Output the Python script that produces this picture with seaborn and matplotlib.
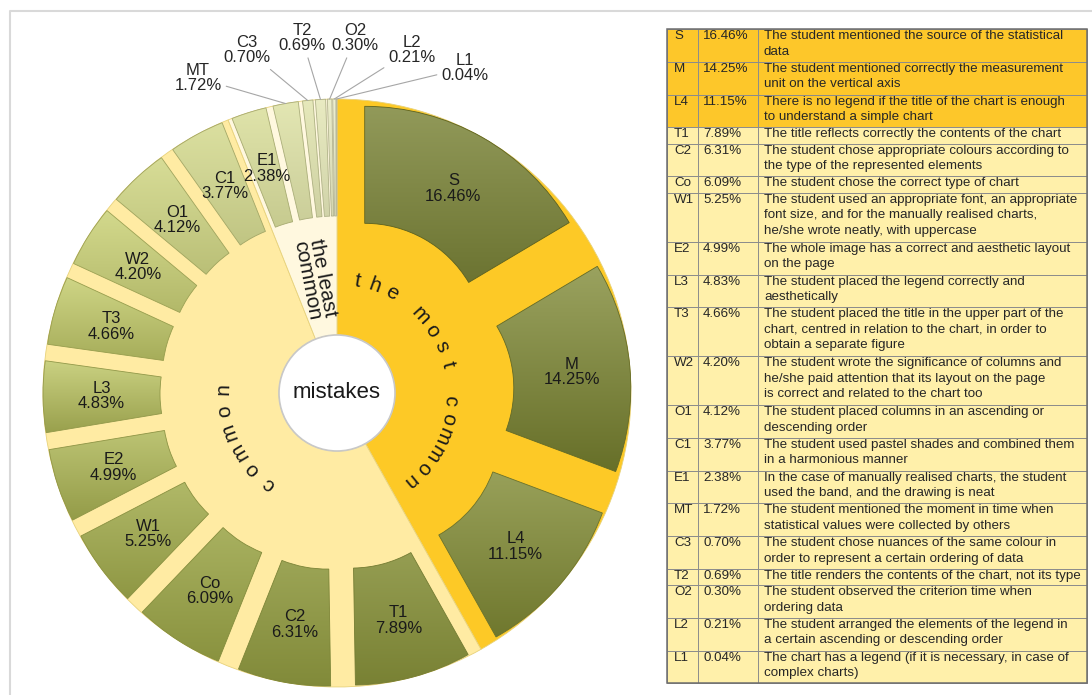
import numpy as np
import pandas as pd
import seaborn as sns
import matplotlib.pyplot as plt
from matplotlib.patches import Wedge, Circle, Rectangle
from matplotlib.colors import to_rgb

sns.set_theme(style="white")
plt.rcParams['font.family'] = ['Liberation Sans', 'DejaVu Sans']

codes = ["S", "M", "L4", "T1", "C2", "Co", "W1", "E2", "L3", "T3",
         "W2", "O1", "C1", "E1", "MT", "C3", "T2", "O2", "L2", "L1"]
shares = [16.46, 14.25, 11.15, 7.89, 6.31, 6.09, 5.25, 4.99, 4.83, 4.66,
          4.20, 4.12, 3.77, 2.38, 1.72, 0.70, 0.69, 0.30, 0.21, 0.04]
groups = ["the most common"] * 3 + ["common"] * 10 + ["the least common"] * 7
descriptions = [
    "The student mentioned the source of the statistical\ndata",
    "The student mentioned correctly the measurement\nunit on the vertical axis",
    "There is no legend if the title of the chart is enough\nto understand a simple chart",
    "The title reflects correctly the contents of the chart",
    "The student chose appropriate colours according to\nthe type of the represented elements",
    "The student chose the correct type of chart",
    "The student used an appropriate font, an appropriate\nfont size, and for the manually realised charts,\nhe/she wrote neatly, with uppercase",
    "The whole image has a correct and aesthetic layout\non the page",
    "The student placed the legend correctly and\naesthetically",
    "The student placed the title in the upper part of the\nchart, centred in relation to the chart, in order to\nobtain a separate figure",
    "The student wrote the significance of columns and\nhe/she paid attention that its layout on the page\nis correct and related to the chart too",
    "The student placed columns in an ascending or\ndescending order",
    "The student used pastel shades and combined them\nin a harmonious manner",
    "In the case of manually realised charts, the student\nused the band, and the drawing is neat",
    "The student mentioned the moment in time when\nstatistical values were collected by others",
    "The student chose nuances of the same colour in\norder to represent a certain ordering of data",
    "The title renders the contents of the chart, not its type",
    "The student observed the criterion time when\nordering data",
    "The student arranged the elements of the legend in\na certain ascending or descending order",
    "The chart has a legend (if it is necessary, in case of\ncomplex charts)",
]
center_label = "mistakes"

# layout (pixels, image coords with y measured from the top)
W, H = 1092, 695
cx, cy = 337, H - 393
R_HOLE, R_RING = 58, 294
R_IN, R_OUT, EXPLODE = 121, 238, 56
group_colors = {"the most common": "#FDC926", "common": "#FFEBA3", "the least common": "#FFF8DF"}
arc_span = {"the most common": 130, "common": 55}
ext_pos = {"MT": (198, 78), "C3": (247, 50), "T2": (302, 38),
           "O2": (355, 38), "L2": (412, 50), "L1": (465, 68)}
TFS = 9.6

df = pd.DataFrame({"code": codes, "share": shares, "group": groups, "desc": descriptions})
frac = df["share"] / df["share"].sum()
df["end"] = frac.cumsum() * 360
df["start"] = df["end"] - frac * 360
df["mid"] = (df["start"] + df["end"]) / 2
grp = df.groupby("group", sort=False).agg(start=("start", "min"), end=("end", "max"))
grp["mid"] = (grp["start"] + grp["end"]) / 2

palette = sns.blend_palette(["#737D2B", "#A7B24C", "#C4CC66", "#DCE0A0", "#ECEDCB"], n_colors=len(df))

fig = plt.figure(figsize=(W / 100, H / 100), dpi=100)
ax = fig.add_axes([0, 0, 1, 1])
ax.set_autoscale_on(False)
ax.set_xlim(0, W)
ax.set_ylim(0, H)
ax.axis("off")

# frame of the chart area
ax.plot([10, 10, W], [0, H - 11, H - 11], color="#d9d9d9", lw=1.5)


def unit(cw):
    th = np.radians(90 - cw)
    return np.cos(th), np.sin(th)


# inner ring: groups
for name, row in grp.iterrows():
    ax.add_patch(Wedge((cx, cy), R_RING, 90 - row["end"], 90 - row["start"],
                       width=R_RING - R_HOLE, facecolor=group_colors[name],
                       edgecolor="#e8d27a", lw=0.6, zorder=1))

# outer exploded segments with a vertical gradient
for i, row in df.iterrows():
    ux, uy = unit(row["mid"])
    ecx, ecy = cx + EXPLODE * ux, cy + EXPLODE * uy
    base = np.array(to_rgb(palette[i]))
    light = base + (1 - base) * 0.22
    dark = base * 0.82
    w = Wedge((ecx, ecy), R_OUT, 90 - row["end"], 90 - row["start"], width=R_OUT - R_IN,
              facecolor="none", edgecolor=tuple(dark * 0.95), lw=0.6, zorder=3)
    ax.add_patch(w)
    v = w.get_path().vertices
    t = np.linspace(0, 1, 64)[:, None]
    grad = (light[None, :] * (1 - t) + dark[None, :] * t)[:, None, :]
    im = ax.imshow(grad, extent=(v[:, 0].min(), v[:, 0].max(), v[:, 1].min(), v[:, 1].max()),
                   origin="upper", aspect="auto", interpolation="bilinear", zorder=2)
    im.set_clip_path(w)

    label = f"{row['code']}\n{row['share']:.2f}%"
    if row["code"] in ext_pos:
        tx, ty = ext_pos[row["code"]]
        ax.annotate(label, xy=(ecx + R_OUT * ux, ecy + R_OUT * uy), xytext=(tx, H - ty),
                    ha="center", va="center", fontsize=12, color="#262626", linespacing=1.05,
                    arrowprops=dict(arrowstyle="-", color="#a6a6a6", lw=0.8, shrinkA=1, shrinkB=0),
                    zorder=6)
    else:
        rm = (R_IN + R_OUT) / 2
        ax.text(ecx + rm * ux, ecy + rm * uy, label, ha="center", va="center",
                fontsize=12, color="#1a1a1a", linespacing=1.05, zorder=6)

# curved group labels
for name, span in arc_span.items():
    mid = grp.loc[name, "mid"]
    n = len(name)
    for k, ch in enumerate(name):
        phi = mid - span / 2 + k * span / (n - 1)
        ux, uy = unit(phi)
        ax.text(cx + 114 * ux, cy + 114 * uy, ch, rotation=-phi, rotation_mode="anchor",
                ha="center", va="center", fontsize=15, color="#1a1a1a", zorder=6)

lc = grp.loc["the least common", "mid"]
ux, uy = unit(lc)
ax.text(cx + 116 * ux, cy + 116 * uy, "the least\ncommon", rotation=(90 - lc) - 180,
        rotation_mode="anchor", ha="center", va="center", fontsize=15, color="#1a1a1a",
        linespacing=0.85, zorder=6)

# hole
ax.add_patch(Circle((cx, cy), R_HOLE, facecolor="white", edgecolor="#c8c8c8", lw=1.2, zorder=5))
ax.text(cx, cy, center_label, ha="center", va="center", fontsize=16, color="#1a1a1a", zorder=6)

# table
col_x = [667, 698, 758, 1087]
nlines = df["desc"].str.count("\n") + 1
heights = nlines * 16.0
heights = heights * 654 / heights.sum()
top = H - 29.3
for i, row in df.iterrows():
    h = heights[i]
    fc = "#FDC72A" if row["group"] == "the most common" else "#FFF0AA"
    ax.add_patch(Rectangle((col_x[0], top - h), col_x[3] - col_x[0], h,
                           facecolor=fc, edgecolor="#8c8c8c", lw=0.7, zorder=2))
    for xv in col_x[1:3]:
        ax.plot([xv, xv], [top - h, top], color="#8c8c8c", lw=0.7, zorder=3)
    ty = top - 1.0
    ax.text(col_x[0] + 7, ty, row["code"], ha="left", va="top", fontsize=TFS, color="#262626", zorder=4)
    ax.text(col_x[1] + 5, ty, f"{row['share']:.2f}%", ha="left", va="top", fontsize=TFS,
            color="#262626", zorder=4)
    ax.text(col_x[2] + 6, ty, row["desc"], ha="left", va="top", fontsize=TFS,
            color="#262626", linespacing=1.38, zorder=4)
    top -= h
ax.add_patch(Rectangle((col_x[0], top), col_x[3] - col_x[0], H - 29.3 - top,
                       facecolor="none", edgecolor="#6e6e6e", lw=1.1, zorder=5))

fig.savefig("out.png", dpi=100)
